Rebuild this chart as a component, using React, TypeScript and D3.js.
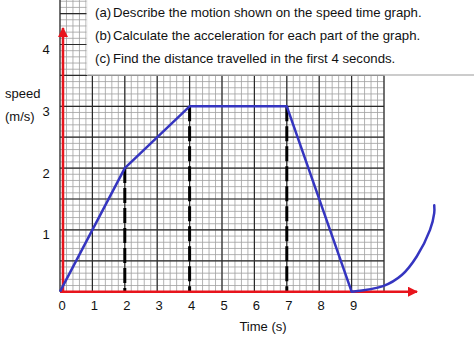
import React from "react";
import * as d3 from "d3";

const timeValues = [0, 2, 4, 7, 9];
const speedValues = [0, 2, 3, 3, 0];
const tailTime = [9, 9.97, 10.55, 11.01, 11.42, 11.55, 11.55];
const tailSpeed = [0, 0.09, 0.27, 0.57, 1.0, 1.27, 1.4];
const dashTimes = [2, 4, 7];
const dashSpeeds = [2, 3, 3];
const xTicks = [0, 1, 2, 3, 4, 5, 6, 7, 8, 9];
const yTicks = [1, 2, 3, 4];
const questions = [
  ["(a)", "Describe the motion shown on the speed time graph."],
  ["(b)", "Calculate the acceleration for each part of the graph."],
  ["(c)", "Find the distance travelled in the first 4 seconds."],
];

const W = 474;
const H = 355;
const FONT = "'Liberation Sans', Arial, sans-serif";

export default function App() {
  const x = d3.scaleLinear().domain([0, 10]).range([60, 384]);
  const y = d3.scaleLinear().domain([0, 1]).range([291.7, 229.9]);

  const vMinor = d3.range(0, 10.001, 0.2);
  const vMajor = d3.range(0, 10.001, 1);
  const hMinor = d3.range(0, 4.8, 0.1);
  const hMajor = d3.range(0, 4.8, 0.5);

  const line = d3
    .line<[number, number]>()
    .x((d) => x(d[0]))
    .y((d) => y(d[1]));
  const mainPts = timeValues.map((t, i) => [t, speedValues[i]] as [number, number]);
  const tailPts = tailTime.map((t, i) => [t, tailSpeed[i]] as [number, number]);
  const tailLine = d3
    .line<[number, number]>()
    .x((d) => x(d[0]))
    .y((d) => y(d[1]))
    .curve(d3.curveCatmullRom.alpha(0.5));

  const gridTop = 0;
  const gridBottom = y(0);

  return (
    <svg
      width={W}
      height={H}
      style={{ position: "absolute", left: 0, top: 0, background: "#fff" }}
      fontFamily={FONT}
    >
      <rect x={0} y={0} width={W} height={H} fill="#fff" />
      {/* grid */}
      <g>
        {hMinor.map((v, i) => (
          <line key={"hm" + i} x1={x(0)} x2={x(10)} y1={y(v)} y2={y(v)} stroke="#a0a0a0" strokeWidth={0.8} />
        ))}
        {vMinor.map((v, i) => (
          <line key={"vm" + i} x1={x(v)} x2={x(v)} y1={gridTop} y2={gridBottom} stroke="#a0a0a0" strokeWidth={0.8} />
        ))}
        {hMajor.map((v, i) => (
          <line key={"hM" + i} x1={x(0)} x2={x(10)} y1={y(v)} y2={y(v)} stroke="#2a2a2a" strokeWidth={1.2} />
        ))}
        {vMajor.map((v, i) => (
          <line key={"vM" + i} x1={x(v)} x2={x(v)} y1={gridTop} y2={gridBottom} stroke="#2a2a2a" strokeWidth={1.2} />
        ))}
      </g>
      {/* question box */}
      <rect x={87} y={0} width={W - 87} height={75} fill="#fff" />
      <line x1={87} x2={W} y1={75} y2={75} stroke="#bbb" strokeWidth={1.5} />
      <line x1={87} x2={87} y1={0} y2={75} stroke="#eee" strokeWidth={1} />
      {questions.map((q, i) => (
        <g key={"q" + i} fontSize={13.2} fill="#111">
          <text x={95} y={12 + i * 23} dominantBaseline="central">
            {q[0]}
          </text>
          <text x={113} y={12 + i * 23} dominantBaseline="central">
            {q[1]}
          </text>
        </g>
      ))}
      {/* dashed drop lines */}
      {dashTimes.map((t, i) => (
        <line
          key={"d" + i}
          x1={x(t)}
          x2={x(t)}
          y1={y(dashSpeeds[i])}
          y2={y(0)}
          stroke="#000"
          strokeWidth={3}
          strokeDasharray="15 5"
        />
      ))}
      {/* axes */}
      <defs>
        <marker id="arr" viewBox="0 0 10 10" refX={9} refY={5} markerWidth={4} markerHeight={4} orient="auto">
          <path d="M0,0 L10,5 L0,10 z" fill="#e8141c" />
        </marker>
      </defs>
      <line x1={x(0)} x2={417} y1={y(0)} y2={y(0)} stroke="#e8141c" strokeWidth={2.5} markerEnd="url(#arr)" />
      <line x1={63} x2={63} y1={y(0)} y2={28} stroke="#e8141c" strokeWidth={2.5} markerEnd="url(#arr)" />
      {/* speed line */}
      <path d={line(mainPts) || ""} fill="none" stroke="#3535c0" strokeWidth={2.5} strokeLinejoin="round" />
      <path d={tailLine(tailPts) || ""} fill="none" stroke="#3535c0" strokeWidth={2.5} strokeLinecap="round" />
      {/* tick labels */}
      {xTicks.map((t) => (
        <text key={"xt" + t} x={x(t) + 2} y={305} textAnchor="middle" dominantBaseline="central" fontSize={13} fill="#111">
          {t}
        </text>
      ))}
      {yTicks.map((t) => (
        <text key={"yt" + t} x={46} y={y(t) + 5} textAnchor="middle" dominantBaseline="central" fontSize={13} fill="#111">
          {t}
        </text>
      ))}
      <text x={5} y={93} dominantBaseline="central" fontSize={13} fill="#111">
        speed
      </text>
      <text x={5} y={116} dominantBaseline="central" fontSize={13} fill="#111">
        (m/s)
      </text>
      <text x={263} y={326} textAnchor="middle" dominantBaseline="central" fontSize={13} fill="#111">
        Time (s)
      </text>
    </svg>
  );
}
